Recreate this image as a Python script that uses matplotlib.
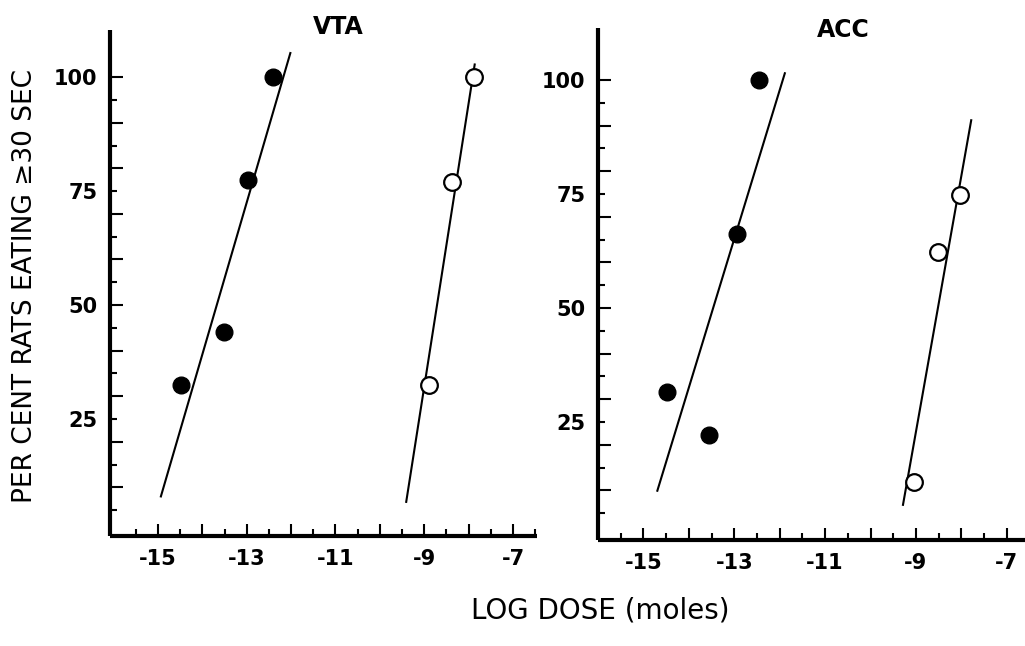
import matplotlib.pyplot as plt
from matplotlib.ticker import FixedLocator, FuncFormatter

# VTA panel
vta_filled_x = [-14.47, -13.51, -12.98, -12.41]
vta_filled_y = [32.5, 44.0, 77.5, 100.0]
vta_open_x = [-8.89, -8.38, -7.89]
vta_open_y = [32.5, 77.0, 100.0]
vta_filled_line_x = [-14.94, -12.01]
vta_filled_line_y = [7.8, 105.5]
vta_open_line_x = [-9.41, -7.86]
vta_open_line_y = [6.6, 103.0]

# ACC panel
acc_filled_x = [-14.48, -13.56, -12.94, -12.46]
acc_filled_y = [31.6, 22.2, 66.2, 100.0]
acc_open_x = [-9.05, -8.51, -8.02]
acc_open_y = [11.9, 62.3, 74.8]
acc_filled_line_x = [-14.70, -11.88]
acc_filled_line_y = [9.7, 101.7]
acc_open_line_x = [-9.29, -7.78]
acc_open_line_y = [6.6, 91.4]

y_labels = [25, 50, 75, 100]
x_labels = [-15, -13, -11, -9, -7]

fig = plt.figure(figsize=(10.25, 6.46), dpi=100)
fig.patch.set_facecolor("white")

ax1 = fig.add_axes([0.1073, 0.170, 0.4166, 0.7833])
ax2 = fig.add_axes([0.5834, 0.164, 0.4166, 0.7926])


def style_axis(ax, xlim, ylim, xmax_tick):
    ax.set_xlim(*xlim)
    ax.set_ylim(*ylim)
    for s in ["top", "right"]:
        ax.spines[s].set_visible(False)
    for s in ["left", "bottom"]:
        ax.spines[s].set_linewidth(3)
        ax.spines[s].set_capstyle("butt")

    # y ticks: long every 10, short on the odd 5s
    ax.yaxis.set_major_locator(FixedLocator(list(range(10, 101, 10))))
    ax.yaxis.set_minor_locator(FixedLocator(list(range(5, 100, 10))))
    fmt_y = FuncFormatter(lambda v, p: str(int(v)) if int(v) in y_labels else "")
    ax.yaxis.set_major_formatter(fmt_y)
    ax.yaxis.set_minor_formatter(fmt_y)

    # x ticks: long at integers, short at halves
    majors = [v for v in range(-15, 0) if v <= xmax_tick]
    minors = [v + 0.5 for v in range(-16, 0) if v + 0.5 <= xmax_tick]
    ax.xaxis.set_major_locator(FixedLocator(majors))
    ax.xaxis.set_minor_locator(FixedLocator(minors))
    fmt_x = FuncFormatter(lambda v, p: str(int(v)) if int(round(v)) in x_labels and v == int(v) else "")
    ax.xaxis.set_major_formatter(fmt_x)
    ax.xaxis.set_minor_formatter(FuncFormatter(lambda v, p: ""))

    ax.tick_params(axis="both", which="major", direction="in", length=9, width=1.5, pad=9)
    ax.tick_params(axis="both", which="minor", direction="in", length=5, width=1.5, pad=9)
    for lab in ax.get_xticklabels() + ax.get_yticklabels() + ax.get_yticklabels(minor=True):
        lab.set_fontsize(15)
        lab.set_fontweight("bold")


def draw_panel(ax, fx, fy, ox, oy, flx, fly, olx, oly):
    ax.plot(flx, fly, color="black", lw=1.5, solid_capstyle="butt")
    ax.plot(olx, oly, color="black", lw=1.5, solid_capstyle="butt")
    ax.plot(fx, fy, "o", color="black", markersize=12, zorder=3)
    ax.plot(ox, oy, "o", markerfacecolor="white", markeredgecolor="black",
            markeredgewidth=1.6, markersize=12, zorder=3)


draw_panel(ax1, vta_filled_x, vta_filled_y, vta_open_x, vta_open_y,
           vta_filled_line_x, vta_filled_line_y, vta_open_line_x, vta_open_line_y)
draw_panel(ax2, acc_filled_x, acc_filled_y, acc_open_x, acc_open_y,
           acc_filled_line_x, acc_filled_line_y, acc_open_line_x, acc_open_line_y)

style_axis(ax1, (-16.08, -6.46), (-0.7, 110.3), -6.5)
style_axis(ax2, (-16.0, -6.6), (-0.9, 111.4), -7)

fig.text(338 / 1025, 1 - 27 / 646, "VTA", fontsize=17, fontweight="bold", ha="center", va="center")
fig.text(843 / 1025, 1 - 30 / 646, "ACC", fontsize=17, fontweight="bold", ha="center", va="center")

fig.text(25 / 1025, 1 - 286 / 646, "PER CENT RATS EATING \u226530 SEC", fontsize=19,
         rotation=90, ha="center", va="center")
fig.text(600 / 1025, 1 - 610 / 646, "LOG DOSE (moles)", fontsize=20,
         ha="center", va="center")

fig.savefig("out.png", dpi=100, facecolor="white")
